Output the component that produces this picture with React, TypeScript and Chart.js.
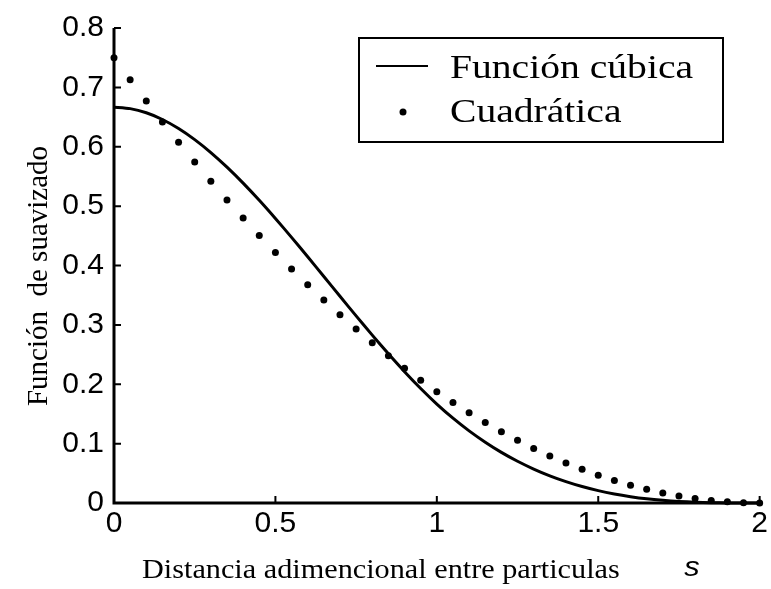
import React, { useEffect, useRef } from "react";
import { Chart, registerables } from "chart.js";

Chart.register(...registerables);

const sValues = [
  0, 0.05, 0.1, 0.15, 0.2, 0.25, 0.3, 0.35, 0.4, 0.45, 0.5, 0.55, 0.6, 0.65, 0.7, 0.75, 0.8, 0.85, 0.9, 0.95,
  1.0, 1.05, 1.1, 1.15, 1.2, 1.25, 1.3, 1.35, 1.4, 1.45, 1.5, 1.55, 1.6, 1.65, 1.7, 1.75, 1.8, 1.85, 1.9, 1.95, 2.0,
];
const cubicValues = [
  0.6667, 0.6642, 0.6572, 0.6459, 0.6307, 0.612, 0.5902, 0.5656, 0.5387, 0.5098, 0.4792, 0.4474, 0.4147, 0.3815,
  0.3482, 0.3151, 0.2827, 0.2513, 0.2212, 0.1929, 0.1667, 0.1429, 0.1215, 0.1024, 0.0853, 0.0703, 0.0572, 0.0458,
  0.036, 0.0277, 0.0208, 0.0152, 0.0107, 0.0071, 0.0045, 0.0026, 0.0013, 0.0006, 0.0002, 0.0, 0.0,
];
const quadraticValues = [
  0.75, 0.713, 0.6769, 0.6417, 0.6075, 0.5742, 0.5419, 0.5105, 0.48, 0.4505, 0.4219, 0.3942, 0.3675, 0.3417, 0.3169,
  0.293, 0.27, 0.248, 0.2269, 0.2067, 0.1875, 0.1692, 0.1519, 0.1355, 0.12, 0.1055, 0.0919, 0.0792, 0.0675, 0.0567,
  0.0469, 0.038, 0.03, 0.023, 0.0169, 0.0117, 0.0075, 0.0042, 0.0019, 0.0005, 0.0,
];
const xTickLabels = ["0", "0.5", "1", "1.5", "2"];
const yTickLabels = ["0", "0.1", "0.2", "0.3", "0.4", "0.5", "0.6", "0.7", "0.8"];
const seriesLabels = ["Función cúbica", "Cuadrática"];
const xTitle = "Distancia adimencional entre particulas";
const xVarLabel = "s";
const yTitle = "Función  de suavizado";

const SERIF = "'Liberation Serif', 'Times New Roman', serif";
const SANS = "'Liberation Sans', Arial, sans-serif";

function drawText(
  ctx: CanvasRenderingContext2D,
  text: string,
  x: number,
  y: number,
  font: string,
  sx: number,
  align: CanvasTextAlign,
  baseline: CanvasTextBaseline,
  rotate = 0
) {
  ctx.save();
  ctx.translate(x, y);
  if (rotate) ctx.rotate(rotate);
  ctx.scale(sx, 1);
  ctx.font = font;
  ctx.fillStyle = "#000";
  ctx.textAlign = align;
  ctx.textBaseline = baseline;
  ctx.fillText(text, 0, 0);
  ctx.restore();
}

const decorPlugin = {
  id: "decor",
  afterDatasetsDraw(chart: any) {
    const ctx: CanvasRenderingContext2D = chart.ctx;
    const { left, right, top, bottom } = chart.chartArea;
    const xs = chart.scales.x;
    const ys = chart.scales.y;
    ctx.save();
    ctx.strokeStyle = "#000";
    // axes
    ctx.lineWidth = 3;
    ctx.beginPath();
    ctx.moveTo(left, top);
    ctx.lineTo(left, bottom);
    ctx.lineTo(right, bottom);
    ctx.stroke();
    // inward ticks
    ctx.lineWidth = 2;
    ctx.beginPath();
    ys.ticks.forEach((t: any) => {
      const py = ys.getPixelForValue(t.value);
      ctx.moveTo(left, py);
      ctx.lineTo(left + 7, py);
    });
    xs.ticks.forEach((t: any) => {
      const px = xs.getPixelForValue(t.value);
      ctx.moveTo(px, bottom);
      ctx.lineTo(px, bottom - 7);
    });
    ctx.stroke();

    // legend box
    const lx = 359, ly = 38, lw = 364, lh = 104;
    ctx.fillStyle = "#fff";
    ctx.fillRect(lx, ly, lw, lh);
    ctx.lineWidth = 2;
    ctx.strokeRect(lx, ly, lw, lh);
    const ds0 = chart.data.datasets[0];
    const ds1 = chart.data.datasets[1];
    ctx.strokeStyle = ds0.borderColor;
    ctx.lineWidth = 2;
    ctx.beginPath();
    ctx.moveTo(376, 66);
    ctx.lineTo(428, 66);
    ctx.stroke();
    ctx.fillStyle = ds1.pointBackgroundColor;
    ctx.beginPath();
    ctx.arc(403, 112, 3.5, 0, Math.PI * 2);
    ctx.fill();
    drawText(ctx, ds0.label, 450, 78, `33px ${SERIF}`, 1.2, "left", "alphabetic");
    drawText(ctx, ds1.label, 450, 122, `33px ${SERIF}`, 1.2, "left", "alphabetic");

    // axis titles
    drawText(ctx, xTitle, 142, 578, `28px ${SERIF}`, 1.08, "left", "alphabetic");
    drawText(ctx, xVarLabel, 692, 576, `italic 28px ${SANS}`, 1.1, "center", "alphabetic");
    drawText(ctx, yTitle, 47, 276, `29px ${SERIF}`, 1, "center", "alphabetic", -Math.PI / 2);
    ctx.restore();
  },
};

export default function App() {
  const ref = useRef<HTMLCanvasElement | null>(null);
  useEffect(() => {
    if (!ref.current) return;
    document.body.style.margin = "0";
    const chart = new Chart(ref.current, {
      type: "line",
      data: {
        datasets: [
          {
            label: seriesLabels[0],
            data: sValues.map((s, i) => ({ x: s, y: cubicValues[i] })),
            borderColor: "#000",
            borderWidth: 3,
            pointRadius: 0,
            fill: false,
            tension: 0.2,
            clip: false as any,
          },
          {
            label: seriesLabels[1],
            data: sValues.map((s, i) => ({ x: s, y: quadraticValues[i] })),
            showLine: false,
            pointRadius: 3.5,
            pointBackgroundColor: "#000",
            pointBorderWidth: 0,
            borderColor: "#000",
            clip: false as any,
          } as any,
        ],
      },
      options: {
        animation: false,
        responsive: false,
        maintainAspectRatio: false,
        layout: { padding: { top: 17, right: 11, left: 0, bottom: 0 } },
        plugins: { legend: { display: false }, tooltip: { enabled: false } },
        scales: {
          x: {
            type: "linear",
            min: 0,
            max: 2,
            grid: { display: false, drawTicks: false },
            border: { display: false },
            ticks: {
              stepSize: 0.5,
              padding: 3,
              color: "#000",
              font: { family: SANS, size: 30 },
              maxRotation: 0,
              callback: (_v: any, i: number) => xTickLabels[i],
            },
            afterFit: (s: any) => {
              s.height = 86;
            },
          },
          y: {
            min: 0,
            max: 0.8,
            grid: { display: false, drawTicks: false },
            border: { display: false },
            ticks: {
              stepSize: 0.1,
              padding: 10,
              color: "#000",
              font: { family: SANS, size: 30 },
              callback: (_v: any, i: number) => yTickLabels[i],
            },
            afterFit: (s: any) => {
              s.width = 114;
            },
          },
        },
      },
      plugins: [decorPlugin],
    });
    return () => chart.destroy();
  }, []);
  return (
    <div style={{ position: "fixed", left: 0, top: 0, width: 771, height: 589, background: "#fff" }}>
      <canvas ref={ref} width={771} height={589} />
    </div>
  );
}
